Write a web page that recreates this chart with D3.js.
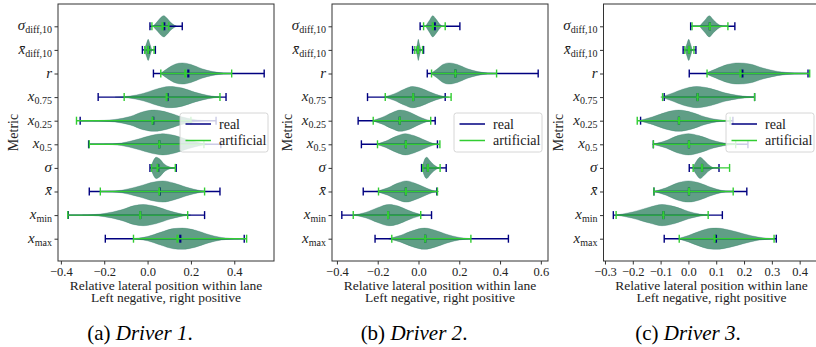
<!DOCTYPE html>
<html>
<head>
<meta charset="utf-8">
<script src="https://cdn.jsdelivr.net/npm/d3@7"></script>
<style>
  body { margin: 0; background: #fff; }
  svg { display: block; }
  svg text { font-family: "Liberation Serif", "Times New Roman", Tinos, "DejaVu Serif", "Noto Serif", serif; }
</style>
</head>
<body>
<script>
// metric rows, top to bottom
var metrics = ["sigmaDiff", "xbarDiff", "r", "x075", "x025", "x05", "sigma", "xbar", "xmin", "xmax"];

// label pieces: [main symbol, subscript]
var metricLabels = [
  ["σ", "diff,10"], ["x\u0304", "diff,10"], ["r", ""], ["x", "0.75"], ["x", "0.25"],
  ["x", "0.5"], ["σ", ""], ["x\u0304", ""], ["x", "min"], ["x", "max"]
];

var xTicks1 = [-0.4, -0.2, 0.0, 0.2, 0.4];
var xTicks2 = [-0.4, -0.2, 0.0, 0.2, 0.4, 0.6];
var xTicks3 = [-0.3, -0.2, -0.1, 0.0, 0.1, 0.2, 0.3, 0.4];

// [min, median, max] per metric
var driver1Real = [[0.011, 0.077, 0.16], [-0.024, 0.005, 0.036], [0.027, 0.188, 0.538], [-0.228, 0.092, 0.362],
  [-0.311, 0.026, 0.316], [-0.272, 0.054, 0.338], [0.011, 0.049, 0.132], [-0.269, 0.057, 0.334],
  [-0.366, -0.034, 0.263], [-0.195, 0.151, 0.446]];
var driver1Art = [[0.02, 0.069, 0.098], [-0.013, 0.003, 0.03], [0.061, 0.174, 0.388], [-0.108, 0.088, 0.334],
  [-0.328, 0.023, 0.2], [-0.269, 0.054, 0.26], [0.018, 0.046, 0.128], [-0.218, 0.054, 0.263],
  [-0.368, -0.034, 0.185], [-0.065, 0.138, 0.457]];

var driver2Real = [[0.008, 0.08, 0.203], [-0.029, -0.003, 0.025], [0.043, 0.181, 0.587], [-0.25, -0.026, 0.131],
  [-0.296, -0.092, 0.082], [-0.28, -0.062, 0.093], [0.015, 0.046, 0.136], [-0.271, -0.062, 0.09],
  [-0.376, -0.149, 0.064], [-0.213, 0.033, 0.441]];
var driver2Art = [[0.025, 0.07, 0.131], [-0.018, -0.003, 0.02], [0.064, 0.181, 0.383], [-0.163, -0.026, 0.16],
  [-0.222, -0.092, 0.06], [-0.201, -0.062, 0.105], [0.021, 0.046, 0.106], [-0.196, -0.062, 0.093],
  [-0.32, -0.149, 0.011], [-0.131, 0.033, 0.257]];

var driver3Real = [[0.008, 0.077, 0.167], [-0.019, 0.002, 0.027], [0.003, 0.194, 0.43], [-0.087, 0.033, 0.238],
  [-0.172, -0.034, 0.16], [-0.126, 0.002, 0.214], [0.003, 0.049, 0.11], [-0.124, 0.002, 0.21],
  [-0.27, -0.09, 0.122], [-0.087, 0.099, 0.316]];
var driver3Art = [[0.013, 0.077, 0.142], [-0.013, 0.002, 0.02], [0.067, 0.187, 0.436], [-0.093, 0.033, 0.238],
  [-0.184, -0.034, 0.15], [-0.126, 0.002, 0.17], [0.017, 0.049, 0.148], [-0.124, 0.002, 0.161],
  [-0.26, -0.09, 0.071], [-0.033, 0.094, 0.308]];

// violin outlines: [value, relative half width]
var driver1Body = [
  [[0.025, 0], [0.045, 0.45], [0.065, 0.9], [0.075, 1], [0.09, 0.75], [0.11, 0.3], [0.135, 0]],
  [[-0.015, 0], [-0.005, 0.6], [0.003, 1], [0.01, 0.6], [0.02, 0]],
  [[0.06, 0], [0.09, 0.45], [0.13, 0.9], [0.16, 1], [0.2, 0.85], [0.25, 0.45], [0.3, 0.18], [0.35, 0.05], [0.39, 0]],
  [[-0.15, 0], [-0.08, 0.1], [-0.02, 0.35], [0.04, 0.75], [0.1, 1], [0.16, 0.85], [0.22, 0.45], [0.28, 0.15], [0.34, 0]],
  [[-0.25, 0], [-0.15, 0.12], [-0.08, 0.4], [-0.02, 0.85], [0.03, 1], [0.09, 0.8], [0.15, 0.4], [0.22, 0.1], [0.28, 0]],
  [[-0.2, 0], [-0.12, 0.12], [-0.05, 0.45], [0.02, 0.85], [0.07, 1], [0.13, 0.8], [0.19, 0.4], [0.25, 0.1], [0.3, 0]],
  [[0.015, 0], [0.025, 0.6], [0.04, 1], [0.055, 0.85], [0.075, 0.4], [0.1, 0.1], [0.12, 0]],
  [[-0.2, 0], [-0.12, 0.12], [-0.04, 0.5], [0.03, 0.9], [0.07, 1], [0.12, 0.8], [0.18, 0.4], [0.24, 0.1], [0.28, 0]],
  [[-0.3, 0], [-0.2, 0.15], [-0.12, 0.5], [-0.06, 0.9], [-0.02, 1], [0.04, 0.8], [0.1, 0.4], [0.16, 0.1], [0.2, 0]],
  [[-0.08, 0], [0.0, 0.2], [0.06, 0.6], [0.12, 0.95], [0.16, 1], [0.22, 0.8], [0.28, 0.4], [0.34, 0.12], [0.42, 0]]
];
var driver2Body = [
  [[0.035, 0], [0.055, 0.6], [0.07, 1], [0.085, 0.7], [0.1, 0.3], [0.115, 0]],
  [[-0.012, 0], [-0.005, 0.6], [-0.001, 1], [0.004, 0.6], [0.012, 0]],
  [[0.06, 0], [0.09, 0.4], [0.12, 0.85], [0.15, 1], [0.19, 0.85], [0.24, 0.45], [0.29, 0.18], [0.34, 0.05], [0.38, 0]],
  [[-0.17, 0], [-0.12, 0.3], [-0.07, 0.75], [-0.03, 1], [0.01, 0.85], [0.06, 0.45], [0.11, 0.12], [0.15, 0]],
  [[-0.23, 0], [-0.18, 0.3], [-0.13, 0.75], [-0.09, 1], [-0.05, 0.85], [0.0, 0.4], [0.04, 0.1], [0.07, 0]],
  [[-0.21, 0], [-0.16, 0.3], [-0.11, 0.75], [-0.065, 1], [-0.02, 0.8], [0.03, 0.4], [0.07, 0.1], [0.1, 0]],
  [[0.018, 0], [0.028, 0.7], [0.04, 1], [0.055, 0.7], [0.075, 0.3], [0.1, 0]],
  [[-0.21, 0], [-0.15, 0.35], [-0.1, 0.8], [-0.06, 1], [-0.02, 0.8], [0.03, 0.4], [0.07, 0.1], [0.1, 0]],
  [[-0.32, 0], [-0.26, 0.25], [-0.2, 0.7], [-0.145, 1], [-0.1, 0.85], [-0.05, 0.45], [0.0, 0.12], [0.03, 0]],
  [[-0.15, 0], [-0.09, 0.3], [-0.03, 0.75], [0.03, 1], [0.08, 0.8], [0.14, 0.4], [0.2, 0.12], [0.26, 0]]
];
var driver3Body = [
  [[0.04, 0], [0.06, 0.6], [0.075, 1], [0.09, 0.6], [0.11, 0.15], [0.13, 0]],
  [[-0.012, 0], [-0.005, 0.6], [0.001, 1], [0.007, 0.6], [0.014, 0]],
  [[0.06, 0], [0.1, 0.45], [0.14, 0.85], [0.18, 1], [0.22, 0.9], [0.27, 0.5], [0.32, 0.2], [0.38, 0.05], [0.43, 0]],
  [[-0.1, 0], [-0.06, 0.35], [-0.02, 0.75], [0.03, 1], [0.08, 0.8], [0.13, 0.4], [0.18, 0.15], [0.24, 0]],
  [[-0.18, 0], [-0.13, 0.35], [-0.08, 0.8], [-0.035, 1], [0.01, 0.8], [0.06, 0.35], [0.11, 0.08], [0.16, 0]],
  [[-0.13, 0], [-0.08, 0.35], [-0.04, 0.8], [0.0, 1], [0.04, 0.8], [0.09, 0.35], [0.14, 0.08], [0.2, 0]],
  [[0.015, 0], [0.028, 0.6], [0.042, 1], [0.055, 0.75], [0.07, 0.35], [0.09, 0]],
  [[-0.125, 0], [-0.08, 0.35], [-0.04, 0.8], [0.0, 1], [0.04, 0.8], [0.08, 0.4], [0.12, 0.1], [0.16, 0]],
  [[-0.26, 0], [-0.2, 0.3], [-0.14, 0.75], [-0.095, 1], [-0.05, 0.8], [0.0, 0.35], [0.04, 0.1], [0.07, 0]],
  [[-0.04, 0], [0.0, 0.3], [0.04, 0.7], [0.08, 0.98], [0.1, 1], [0.15, 0.8], [0.2, 0.45], [0.25, 0.15], [0.31, 0]]
];

var captions = ["(a) ", "(b) ", "(c) "];
var driverNames = ["Driver 1", "Driver 2", "Driver 3"];

var realColor = "#000080", artColor = "#32cd32";
var svgW = 816, svgH = 347;
var plotTop = 4, plotBottom = 261, plotW = 216;
var lefts = [58, 332, 603.5];
var captionX = [140, 414, 688];

var panels = [
  { real: driver1Real, art: driver1Art, body: driver1Body, ticks: xTicks1 },
  { real: driver2Real, art: driver2Art, body: driver2Body, ticks: xTicks2 },
  { real: driver3Real, art: driver3Art, body: driver3Body, ticks: xTicks3 }
];

var svg = d3.select("body").append("svg")
    .attr("width", svgW)
    .attr("height", svgH);

var y = d3.scalePoint()
    .domain(d3.range(metrics.length))
    .range([plotTop, plotBottom])
    .padding(0.945);
var half = y.step() * 0.45;   // violin half height
var cap = 4;                  // half length of extrema / median marks

panels.forEach(function (p, pi) {
  var left = lefts[pi];
  // x limits like matplotlib: data range plus 5% each side
  var lo = d3.min(p.real.concat(p.art), function (d) { return d[0]; });
  var hi = d3.max(p.real.concat(p.art), function (d) { return d[2]; });
  var m = (hi - lo) * 0.05;
  var x = d3.scaleLinear().domain([lo - m, hi + m]).range([left, left + plotW]);

  var g = svg.append("g");

  // violin bodies, both series first (below all lines)
  var area = d3.area()
      .curve(d3.curveMonotoneX)
      .x(function (d) { return x(d[0]); });

  [[realColor, 0.5], [artColor, 0.4]].forEach(function (c) {
    g.append("g").selectAll("path")
      .data(p.body)
      .enter()
      .append("path")
      .attr("d", function (d, i) {
        var cy = y(i);
        return area.y0(function (e) { return cy - e[1] * half; })
                   .y1(function (e) { return cy + e[1] * half; })(d);
      })
      .attr("fill", c[0])
      .attr("fill-opacity", c[1])
      .attr("stroke", c[0])
      .attr("stroke-opacity", c[1] * 0.5)
      .attr("stroke-width", 0.6);
  });

  // whiskers, caps and medians
  [[p.real, realColor], [p.art, artColor]].forEach(function (s) {
    var lg = g.append("g").attr("stroke", s[1]).attr("fill", "none");
    lg.selectAll("line.bar").data(s[0]).enter().append("line")
      .attr("class", "bar")
      .attr("x1", function (d) { return x(d[0]); })
      .attr("x2", function (d) { return x(d[2]); })
      .attr("y1", function (d, i) { return y(i); })
      .attr("y2", function (d, i) { return y(i); })
      .attr("stroke-width", 1.4);
    [0, 2].forEach(function (k) {
      lg.selectAll("line.cap" + k).data(s[0]).enter().append("line")
        .attr("class", "cap" + k)
        .attr("x1", function (d) { return x(d[k]); })
        .attr("x2", function (d) { return x(d[k]); })
        .attr("y1", function (d, i) { return y(i) - cap; })
        .attr("y2", function (d, i) { return y(i) + cap; })
        .attr("stroke-width", 1.4);
    });
    lg.selectAll("line.med").data(s[0]).enter().append("line")
      .attr("class", "med")
      .attr("x1", function (d) { return x(d[1]); })
      .attr("x2", function (d) { return x(d[1]); })
      .attr("y1", function (d, i) { return y(i) - cap; })
      .attr("y2", function (d, i) { return y(i) + cap; })
      .attr("stroke-width", 2.2);
  });

  // x axis
  var xAxis = g.append("g")
      .attr("transform", "translate(0," + plotBottom + ")")
      .call(d3.axisBottom(x).tickValues(p.ticks).tickSize(3.5).tickPadding(3)
        .tickFormat(d3.format(".1f")));
  xAxis.select(".domain").remove();
  xAxis.selectAll("line").attr("stroke", "#333");
  xAxis.selectAll("text").attr("font-size", 12.5).attr("fill", "#222");

  // y axis
  var yAxis = g.append("g")
      .attr("transform", "translate(" + left + ",0)")
      .call(d3.axisLeft(y).tickSize(3.5).tickFormat(""));
  yAxis.select(".domain").remove();
  yAxis.selectAll("line").attr("stroke", "#333");

  // math-like metric labels
  var labels = g.append("g").selectAll("text")
      .data(metricLabels)
      .enter()
      .append("text")
      .attr("x", left - 6)
      .attr("y", function (d, i) { return y(i) + 4; })
      .attr("text-anchor", "end")
      .attr("fill", "#222");
  labels.append("tspan")
      .attr("font-style", "italic")
      .attr("font-size", 15)
      .text(function (d) { return d[0]; });
  labels.filter(function (d) { return d[1] !== ""; })
      .append("tspan")
      .attr("font-size", 10)
      .attr("dy", 3)
      .text(function (d) { return d[1]; });

  // frame
  g.append("rect")
      .attr("x", left).attr("y", plotTop)
      .attr("width", plotW).attr("height", plotBottom - plotTop)
      .attr("fill", "none").attr("stroke", "#333").attr("stroke-width", 1);

  // axis titles
  g.append("text")
      .attr("transform", "translate(" + (left - 45) + "," + ((plotTop + plotBottom) / 2) + ") rotate(-90)")
      .attr("text-anchor", "middle")
      .attr("dy", "0.35em")
      .attr("font-size", 14)
      .attr("fill", "#222")
      .text("Metric");
  var cx = pi === 2 ? left + 108 : left + plotW / 2;
  g.append("text")
      .attr("x", cx).attr("y", 289.5)
      .attr("text-anchor", "middle")
      .attr("font-size", 13.5)
      .attr("fill", "#222")
      .text("Relative lateral position within lane");
  g.append("text")
      .attr("x", cx).attr("y", 302)
      .attr("text-anchor", "middle")
      .attr("font-size", 13.5)
      .attr("fill", "#222")
      .text("Left negative, right positive");

  // legend, centre right
  var lw = 88, lh = 39;
  var lx = Math.min(left + plotW, svgW) - 6 - lw + (pi === 2 ? 4 : 0);
  var ly = (plotTop + plotBottom) / 2 - lh / 2;
  var leg = g.append("g").attr("transform", "translate(" + lx + "," + ly + ")");
  leg.append("rect")
      .attr("width", lw).attr("height", lh).attr("rx", 2.5)
      .attr("fill", "#fff").attr("fill-opacity", 0.8)
      .attr("stroke", "#ccc").attr("stroke-width", 0.8);
  [["real", realColor], ["artificial", artColor]].forEach(function (e, k) {
    var ey = 11 + k * 16.5;
    leg.append("line")
        .attr("x1", 5.5).attr("x2", 31)
        .attr("y1", ey).attr("y2", ey)
        .attr("stroke", e[1]).attr("stroke-width", 1.5);
    leg.append("text")
        .attr("x", 39).attr("y", ey + 4.5)
        .attr("font-size", 14)
        .attr("fill", "#222")
        .text(e[0]);
  });

  // sub-figure caption
  var capText = svg.append("text")
      .attr("x", captionX[pi]).attr("y", 340)
      .attr("text-anchor", "middle")
      .attr("font-size", 21)
      .attr("fill", "#000");
  capText.append("tspan").text(captions[pi]);
  capText.append("tspan").attr("font-style", "italic").text(driverNames[pi]);
  capText.append("tspan").text(".");
});
</script>
</body>
</html>
